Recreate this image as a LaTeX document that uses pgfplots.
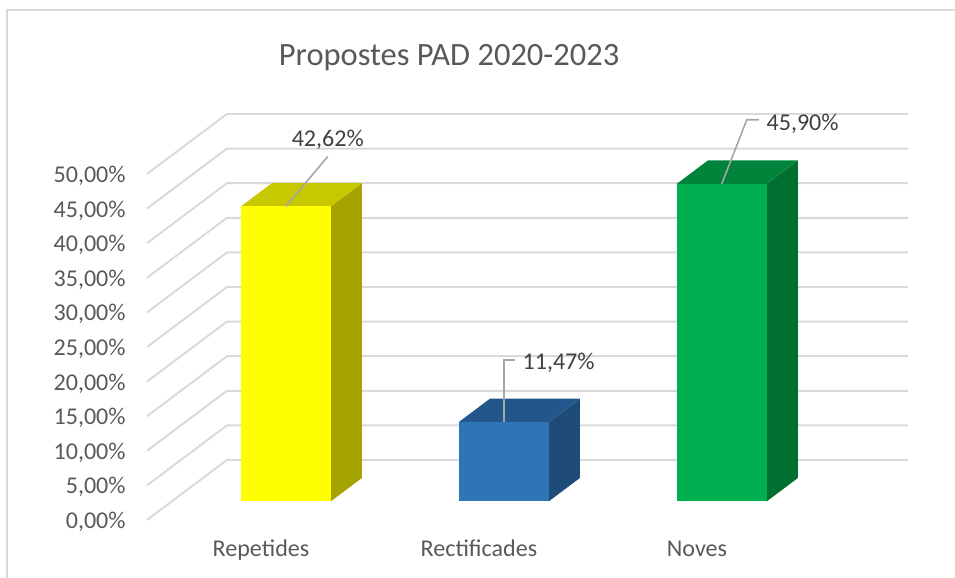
\documentclass[border=0pt]{standalone}
\usepackage{pgfplots}
\pgfplotsset{compat=1.18}
\usepackage{fontspec}
\setmainfont{Carlito}
\definecolor{txt}{HTML}{595959}
\definecolor{lbl}{HTML}{404040}
\definecolor{gridc}{HTML}{D9D9D9}
\definecolor{leader}{HTML}{A6A6A6}
\definecolor{yfront}{HTML}{FFFF00}
\definecolor{ytop}{HTML}{C8C800}
\definecolor{yside}{HTML}{A5A300}
\definecolor{bfront}{HTML}{2E75B6}
\definecolor{btop}{HTML}{23578C}
\definecolor{bside}{HTML}{1E4B78}
\definecolor{gfront}{HTML}{00B050}
\definecolor{gtop}{HTML}{00843C}
\definecolor{gside}{HTML}{006F30}
\newcommand{\tfont}{\fontsize{13.7}{16}\selectfont}
\begin{document}
\begin{tikzpicture}
\useasboundingbox (-5.22,-1.16) rectangle (13.88,10.4);
\begin{axis}[
  x={(4.36cm,0cm)}, y={(1.6cm,1.2cm)}, z={(0cm,0.1384cm)},
  xmin=-0.523, xmax=2.6, ymin=0, ymax=1, zmin=0, zmax=50,
  hide axis, clip=false, anchor=origin, at={(0,0)},
  /pgf/number format/.cd, fixed, fixed zerofill, precision=2, use comma, assume math mode=true,
]
% walls gridlines and tick labels
\pgfplotsinvokeforeach{0,5,...,50}{
  \draw[gridc, line width=1.1pt] (axis cs:-0.523,0,#1) -- (axis cs:-0.523,1,#1) -- (axis cs:2.6,1,#1);
  \node[anchor=base east, xshift=-0.42cm, yshift=-0.17cm, text=txt, font=\tfont, inner sep=0pt] at (axis cs:-0.523,0,#1) {\pgfmathprintnumber{#1}\%};
}
% Repetides 42.62
\addplot3[fill=yside, draw=none] coordinates {(0.206,0.31,0) (0.206,0.70,0) (0.206,0.70,42.62) (0.206,0.31,42.62)} -- cycle;
\addplot3[fill=ytop, draw=none] coordinates {(-0.206,0.31,42.62) (0.206,0.31,42.62) (0.206,0.70,42.62) (-0.206,0.70,42.62)} -- cycle;
\addplot3[fill=yfront, draw=none] coordinates {(-0.206,0.31,0) (0.206,0.31,0) (0.206,0.31,42.62) (-0.206,0.31,42.62)} -- cycle;
% Rectificades 11.47
\addplot3[fill=bside, draw=none] coordinates {(1.206,0.31,0) (1.206,0.70,0) (1.206,0.70,11.47) (1.206,0.31,11.47)} -- cycle;
\addplot3[fill=btop, draw=none] coordinates {(0.794,0.31,11.47) (1.206,0.31,11.47) (1.206,0.70,11.47) (0.794,0.70,11.47)} -- cycle;
\addplot3[fill=bfront, draw=none] coordinates {(0.794,0.31,0) (1.206,0.31,0) (1.206,0.31,11.47) (0.794,0.31,11.47)} -- cycle;
% Noves 45.90
\addplot3[fill=gside, draw=none] coordinates {(2.206,0.31,0) (2.206,0.70,0) (2.206,0.70,45.90) (2.206,0.31,45.90)} -- cycle;
\addplot3[fill=gtop, draw=none] coordinates {(1.794,0.31,45.90) (2.206,0.31,45.90) (2.206,0.70,45.90) (1.794,0.70,45.90)} -- cycle;
\addplot3[fill=gfront, draw=none] coordinates {(1.794,0.31,0) (2.206,0.31,0) (2.206,0.31,45.90) (1.794,0.31,45.90)} -- cycle;
% data labels
\draw[leader, line width=0.9pt] (axis cs:0,0.31,42.62) -- ++(0.84cm,1.0cm) node[anchor=base, yshift=0.2cm, text=lbl, font=\tfont, inner sep=0pt] {42,62\%};
\draw[leader, line width=0.9pt] (axis cs:1,0.31,11.47) -- ++(0cm,1.24cm) -- ++(0.22cm,0cm) node[anchor=base west, xshift=0.14cm, yshift=-0.18cm, text=lbl, font=\tfont, inner sep=0pt] {11,47\%};
\draw[leader, line width=0.9pt] (axis cs:2,0.31,45.90) -- ++(0.5cm,1.28cm) -- ++(0.24cm,0cm) node[anchor=base west, xshift=0.14cm, yshift=-0.22cm, text=lbl, font=\tfont, inner sep=0pt] {45,90\%};
% category labels
\node[anchor=base, yshift=-0.74cm, text=txt, font=\tfont, inner sep=0pt] at (axis cs:0,0,0) {Repetides};
\node[anchor=base, yshift=-0.74cm, text=txt, font=\tfont, inner sep=0pt] at (axis cs:1,0,0) {Rectificades};
\node[anchor=base, yshift=-0.74cm, text=txt, font=\tfont, inner sep=0pt] at (axis cs:2,0,0) {Noves};
\end{axis}
\begin{scope}[x=0.02cm, y=-0.02cm, xshift=-5.22cm, yshift=10.4cm]
\draw[gridc, line width=1.2pt] (7,578) -- (7,10) -- (955,10);
\node[anchor=base, text=txt, font=\fontsize{18.5}{22}\selectfont, inner sep=0pt] at (449,66) {Propostes PAD 2020-2023};
\end{scope}
\end{tikzpicture}
\end{document}
